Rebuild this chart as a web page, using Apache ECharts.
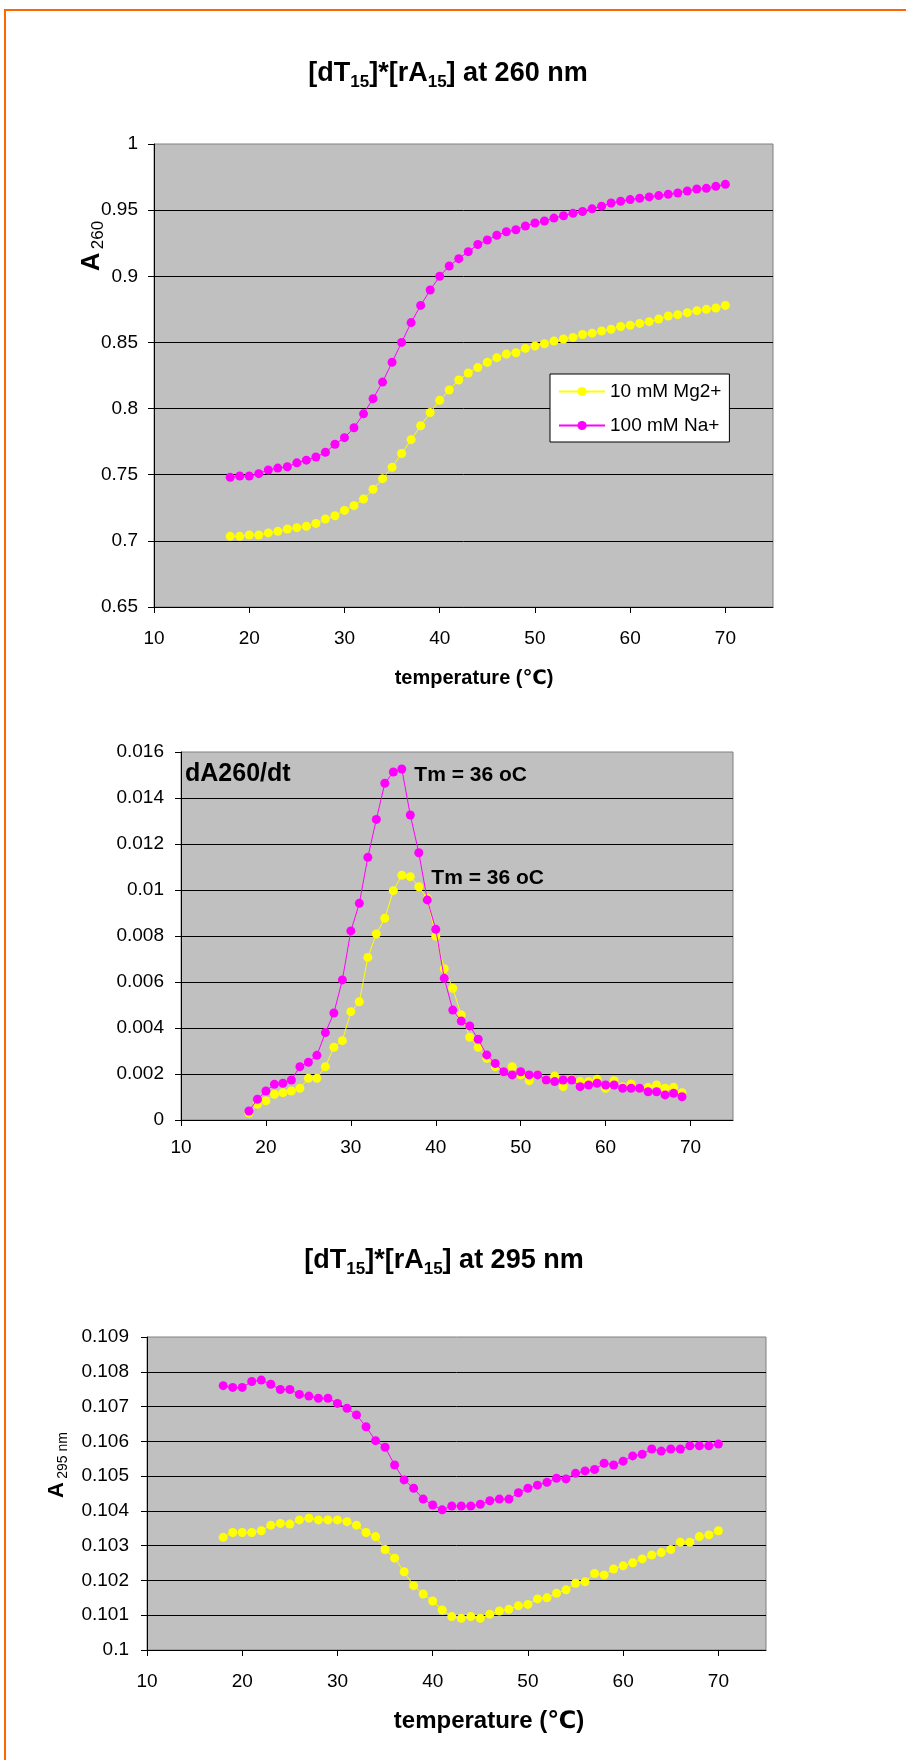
<!DOCTYPE html>
<html>
<head>
<meta charset="utf-8">
<title>[dT15]*[rA15] melting curves</title>
<script src="https://cdn.jsdelivr.net/npm/echarts@6/dist/echarts.min.js"></script>
<style>
  html, body { margin: 0; padding: 0; background: #fff; }
  #chart { width: 906px; height: 1760px; }
</style>
</head>
<body>
<div id="chart"></div>
<script>
// Temperatures (°C) of the absorbance readings
const temps = [18, 19, 20, 21, 22, 23, 24, 25, 26, 27, 28, 29, 30, 31, 32, 33, 34, 35, 36, 37, 38, 39, 40, 41, 42, 43, 44,
  45, 46, 47, 48, 49, 50, 51, 52, 53, 54, 55, 56, 57, 58, 59, 60, 61, 62, 63, 64, 65, 66, 67, 68, 69, 70];
// Temperatures of the first-derivative points
const tempsDeriv = [18, 19, 20, 21, 22, 23, 24, 25, 26, 27, 28, 29, 30, 31, 32, 33, 34, 35, 36, 37, 38, 39, 40, 41, 42, 43, 44,
  45, 46, 47, 48, 49, 50, 51, 52, 53, 54, 55, 56, 57, 58, 59, 60, 61, 62, 63, 64, 65, 66, 67, 68, 69];

const seriesNames = ['10 mM Mg2+', '100 mM Na+'];
const seriesColors = ['#FFFF00', '#FF00FF'];

// Absorbance at 260 nm
const a260Mg = [0.7034, 0.7034, 0.7044, 0.7044, 0.706, 0.7072, 0.709, 0.710, 0.711, 0.7132, 0.7165, 0.719, 0.723, 0.7266,
  0.7316, 0.739, 0.747, 0.7556, 0.766, 0.7765, 0.787, 0.797, 0.8062, 0.814, 0.8216, 0.8269, 0.831, 0.835, 0.8385, 0.8412,
  0.8422, 0.8455, 0.8473, 0.849, 0.851, 0.8526, 0.8538, 0.856, 0.857, 0.8586, 0.860, 0.862, 0.863, 0.8644, 0.8657, 0.8677,
  0.870, 0.871, 0.8725, 0.874, 0.875, 0.876, 0.878];
const a260Na = [0.748, 0.749, 0.749, 0.7508, 0.7536, 0.755, 0.756, 0.759, 0.761, 0.7634, 0.767, 0.773, 0.778, 0.7855, 0.796,
  0.8075, 0.820, 0.835, 0.850, 0.865, 0.878, 0.8896, 0.900, 0.9078, 0.9133, 0.9186, 0.924, 0.9274, 0.931, 0.9337, 0.9352,
  0.938, 0.9403, 0.9418, 0.944, 0.9458, 0.9476, 0.949, 0.951, 0.953, 0.9554, 0.9567, 0.958, 0.959, 0.960, 0.961, 0.962,
  0.963, 0.9645, 0.966, 0.9665, 0.968, 0.9695];

// dA260/dt
const dA260Mg = [0.00029, 0.00068, 0.00083, 0.00112, 0.00119, 0.00126, 0.00138, 0.00181, 0.00181, 0.00232, 0.00316, 0.00345,
  0.00471, 0.00514, 0.00707, 0.00809, 0.00877, 0.00997, 0.01064, 0.01058, 0.01014, 0.00964, 0.008, 0.00658, 0.00573, 0.00457,
  0.0036, 0.00316, 0.00268, 0.00232, 0.0021, 0.00232, 0.00196, 0.00171, 0.00196, 0.00174, 0.00191, 0.00145, 0.00177, 0.00167,
  0.00167, 0.00177, 0.00138, 0.00171, 0.00145, 0.00157, 0.00138, 0.00141, 0.00152, 0.00138, 0.00142, 0.00119];
const dA260Na = [0.00039, 0.0009, 0.00126, 0.00155, 0.0016, 0.00174, 0.00232, 0.00251, 0.00281, 0.0038, 0.00465, 0.00609,
  0.00822, 0.00942, 0.01142, 0.01307, 0.01464, 0.01513, 0.01526, 0.01326, 0.01162, 0.00957, 0.00829, 0.00616, 0.00478, 0.0043,
  0.00409, 0.00351, 0.00283, 0.00246, 0.0021, 0.00196, 0.0021, 0.00196, 0.00196, 0.00174, 0.00167, 0.00174, 0.00174, 0.00145,
  0.00152, 0.0016, 0.00152, 0.00152, 0.00138, 0.00138, 0.00138, 0.00123, 0.00123, 0.00109, 0.00116, 0.00101];
// Melting temperatures (°C), taken at the derivative maxima
const tmMg = 36;
const tmNa = 36;

// Absorbance at 295 nm
const a295Mg = [0.10324, 0.10338, 0.10338, 0.10338, 0.10343, 0.10359, 0.10364, 0.10362, 0.10374, 0.10379, 0.10374, 0.10374,
  0.10374, 0.10369, 0.10359, 0.10338, 0.10326, 0.10289, 0.10264, 0.10225, 0.10185, 0.10161, 0.10141, 0.10115, 0.10096, 0.10091,
  0.10096, 0.10091, 0.10103, 0.10112, 0.10117, 0.10127, 0.10131, 0.10147, 0.1015, 0.10163, 0.10173, 0.10192, 0.10196, 0.1022,
  0.10216, 0.10233, 0.10242, 0.10251, 0.10262, 0.10273, 0.1028, 0.10289, 0.1031, 0.1031, 0.10326, 0.10331, 0.10343];
const a295Na = [0.1076, 0.10755, 0.10755, 0.10772, 0.10776, 0.10764, 0.10749, 0.10749, 0.10735, 0.1073, 0.10724, 0.10724,
  0.10709, 0.10695, 0.10676, 0.10642, 0.10602, 0.10583, 0.10532, 0.10489, 0.10465, 0.10434, 0.10417, 0.10403, 0.10414, 0.10414,
  0.10414, 0.10419, 0.10429, 0.10434, 0.10434, 0.10452, 0.10465, 0.10474, 0.10482, 0.10494, 0.10492, 0.10508, 0.10515, 0.10519,
  0.10537, 0.10532, 0.10543, 0.10558, 0.10563, 0.10578, 0.10572, 0.10578, 0.10578, 0.10587, 0.10587, 0.10587, 0.10592];

// Tick labels
const xTicks = [10, 20, 30, 40, 50, 60, 70];
const y260Ticks = { min: 0.65, max: 1, interval: 0.05 };
const yDerivTicks = { min: 0, max: 0.016, interval: 0.002 };
const y295Ticks = { min: 0.1, max: 0.109, interval: 0.001 };

const FONT = "'Liberation Sans', Arial, 'DejaVu Sans', sans-serif";

function pairs(xs, ys) { return xs.map((x, i) => [x, ys[i]]); }

// Derivative points, with the Tm text attached to the point at Tm
function derivData(xs, ys, tm, dist, off) {
  return xs.map((x, i) => {
    if (x !== tm) return [x, ys[i]];
    return {
      value: [x, ys[i]],
      label: {
        show: true, position: 'right', distance: dist, offset: off,
        formatter: 'Tm = ' + tm + ' oC',
        fontFamily: FONT, fontSize: 21, fontWeight: 'bold', color: '#000'
      }
    };
  });
}

function xAxisFor(gridIndex, labelMargin) {
  return {
    type: 'value', gridIndex, min: 10, max: 75, interval: 10,
    axisLine: { show: true, lineStyle: { color: '#000', width: 1 } },
    axisTick: { show: true, inside: false, length: 6, customValues: xTicks, lineStyle: { color: '#000' } },
    axisLabel: { customValues: xTicks, fontFamily: FONT, fontSize: 19, color: '#000', margin: labelMargin },
    splitLine: { show: false }
  };
}

function yAxisFor(gridIndex, t, labelMargin) {
  return {
    type: 'value', gridIndex, min: t.min, max: t.max, interval: t.interval,
    axisLine: { show: true, lineStyle: { color: '#000', width: 1 } },
    axisTick: { show: true, inside: false, length: 6, lineStyle: { color: '#000' } },
    axisLabel: { fontFamily: FONT, fontSize: 19, color: '#000', margin: labelMargin },
    splitLine: { show: true, showMaxLine: false, lineStyle: { color: '#000', width: 1 } }
  };
}

function lineSeries(idx, gridIdx, data, extra) {
  return Object.assign({
    name: seriesNames[idx], type: 'line',
    xAxisIndex: gridIdx, yAxisIndex: gridIdx,
    data,
    symbol: 'circle', symbolSize: 9, showSymbol: true,
    color: seriesColors[idx],
    itemStyle: { color: seriesColors[idx] },
    lineStyle: { color: seriesColors[idx], width: 1 },
    emphasis: { disabled: true },
    z: 2 + idx
  }, extra || {});
}

const chart = echarts.init(document.getElementById('chart'), null, { renderer: 'canvas' });

const gridStyle = { show: true, backgroundColor: '#C0C0C0', borderColor: '#808080', borderWidth: 1, containLabel: false };

const titleRich = {
  m: { fontFamily: FONT, fontSize: 27, fontWeight: 'bold', lineHeight: 33, fill: '#000' },
  s: { fontFamily: FONT, fontSize: 17, fontWeight: 'bold', lineHeight: 21, verticalAlign: 'bottom', fill: '#000' }
};

chart.setOption({
  animation: false,
  backgroundColor: '#fff',
  textStyle: { fontFamily: FONT },
  grid: [
    Object.assign({ left: 154, top: 144, width: 619, height: 463 }, gridStyle),
    Object.assign({ left: 181, top: 752, width: 552, height: 368 }, gridStyle),
    Object.assign({ left: 147, top: 1337, width: 619, height: 313 }, gridStyle)
  ],
  xAxis: [xAxisFor(0, 22), xAxisFor(1, 18), xAxisFor(2, 22)],
  yAxis: [yAxisFor(0, y260Ticks, 16), yAxisFor(1, yDerivTicks, 17), yAxisFor(2, y295Ticks, 18)],
  legend: {
    data: seriesNames,
    orient: 'vertical',
    left: 550, top: 374,
    padding: [8, 8, 7, 8],
    itemGap: 15,
    itemWidth: 46, itemHeight: 11.5,
    backgroundColor: '#fff',
    borderColor: '#000', borderWidth: 1,
    selectedMode: false,
    textStyle: { fontFamily: FONT, fontSize: 19, color: '#000' }
  },
  series: [
    lineSeries(0, 0, pairs(temps, a260Mg)),
    lineSeries(1, 0, pairs(temps, a260Na)),
    lineSeries(0, 1, derivData(tempsDeriv, dA260Mg, tmMg, 25, [0, 3])),
    lineSeries(1, 1, derivData(tempsDeriv, dA260Na, tmNa, 8, [0, 6])),
    lineSeries(0, 2, pairs(temps, a295Mg)),
    lineSeries(1, 2, pairs(temps, a295Na))
  ],
  graphic: [
    // page frame
    { type: 'rect', z: 100, silent: true,
      shape: { x: 5, y: 10, width: 1200, height: 2000 },
      style: { fill: 'none', stroke: '#FF6600', lineWidth: 2 } },
    // chart titles
    { type: 'text', z: 100, x: 448, y: 74, silent: true,
      style: {
        text: '{m|[dT}{s|15}{m|]*[rA}{s|15}{m|] at 260 nm}',
        align: 'center', verticalAlign: 'middle', fill: '#000', rich: titleRich
      } },
    { type: 'text', z: 100, x: 444, y: 1261, silent: true,
      style: {
        text: '{m|[dT}{s|15}{m|]*[rA}{s|15}{m|] at 295 nm}',
        align: 'center', verticalAlign: 'middle', fill: '#000', rich: titleRich
      } },
    // axis titles
    { type: 'text', z: 100, x: 474, y: 678, silent: true,
      style: { text: 'temperature (℃)', font: "bold 20px " + FONT, fill: '#000', align: 'center', verticalAlign: 'middle' } },
    { type: 'text', z: 100, x: 489, y: 1721, silent: true,
      style: { text: 'temperature (℃)', font: "bold 24px " + FONT, fill: '#000', align: 'center', verticalAlign: 'middle' } },
    { type: 'text', z: 100, x: 92, y: 246, rotation: Math.PI / 2, silent: true,
      style: {
        text: '{a|A} {b|260}', align: 'center', verticalAlign: 'middle',
        rich: {
          a: { fontFamily: FONT, fontSize: 26, fontWeight: 'bold', lineHeight: 30, fill: '#000' },
          b: { fontFamily: FONT, fontSize: 17, lineHeight: 24, verticalAlign: 'bottom', fill: '#000' }
        }
      } },
    { type: 'text', z: 100, x: 57, y: 1465, rotation: Math.PI / 2, silent: true,
      style: {
        text: '{a|A} {b|295 nm}', align: 'center', verticalAlign: 'middle',
        rich: {
          a: { fontFamily: FONT, fontSize: 22, fontWeight: 'bold', lineHeight: 26, fill: '#000' },
          b: { fontFamily: FONT, fontSize: 14, lineHeight: 20, verticalAlign: 'bottom', fill: '#000' }
        }
      } },
    // derivative panel caption
    { type: 'text', z: 100, x: 185, y: 774, silent: true,
      style: { text: 'dA260/dt', font: "bold 25px " + FONT, fill: '#000', align: 'left', verticalAlign: 'middle' } }
  ]
});
</script>
</body>
</html>
